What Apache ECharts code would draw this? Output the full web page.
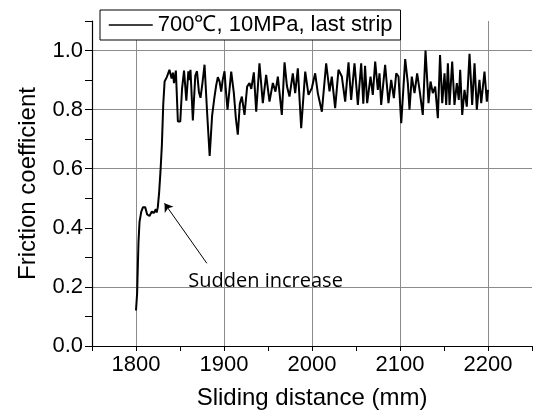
<!DOCTYPE html>
<html>
<head>
<meta charset="utf-8">
<script src="https://cdn.jsdelivr.net/npm/echarts@6/dist/echarts.min.js"></script>
<style>html,body{margin:0;padding:0;background:#fff;}#c{width:533px;height:410px;}</style>
</head>
<body>
<div id="c"></div>
<script>
const seriesName = '700\u2103, 10MPa, last strip';
const distance = [1800,1801.3,1802.8,1804,1806,1808,1810.4,1812.7,1815.3,1818,1820.3,1822.5,1823.5,1824.8,1826.3,1827.8,1829.4,1831,1832.5,1835,1838,1840.5,1842,1843.2,1845.3,1847.6,1850.3,1852.3,1854.6,1857.2,1859.5,1860.6,1861.9,1864.6,1867.4,1869.3,1871.5,1873.3,1875.5,1877.9,1881,1883.7,1886.5,1889,1891,1893,1895,1896.8,1898.5,1900.6,1902,1904,1906,1908.2,1911.2,1913.5,1915.7,1918,1920.3,1923.3,1926.3,1929,1931,1933.9,1936.6,1940.3,1944.1,1947.9,1951.7,1955.5,1958.5,1961.2,1963,1965.7,1968.8,1971.5,1974.4,1978.2,1980.9,1983.9,1987.7,1992.3,1996,1999.8,2003.6,2006.6,2011.2,2016.1,2019.9,2022.5,2026.3,2030.1,2033.9,2037.7,2041.5,2044.5,2048.3,2052.1,2055.9,2058.3,2060.3,2062.7,2066.5,2069.1,2071.8,2074.8,2076.7,2078.6,2083.1,2086.9,2090,2093,2095.7,2098.3,2101.4,2105.9,2108.9,2110.8,2113.4,2116.5,2119.5,2122.2,2125.9,2129,2132.4,2134.7,2137.3,2140,2143,2145.5,2148,2150.6,2152.5,2154.4,2156.3,2159.3,2161.9,2164.6,2166.8,2168.4,2170.7,2173.3,2175.9,2179,2182,2184.7,2187.3,2190.3,2192.3,2196,2198.7,2200];
const friction = [0.12,0.18,0.35,0.42,0.455,0.47,0.47,0.445,0.44,0.455,0.45,0.463,0.452,0.47,0.52,0.59,0.68,0.82,0.895,0.91,0.935,0.905,0.925,0.89,0.932,0.76,0.76,0.87,0.932,0.83,0.93,0.9,0.935,0.763,0.915,0.93,0.86,0.84,0.89,0.952,0.78,0.643,0.78,0.839,0.88,0.91,0.895,0.861,0.9,0.93,0.87,0.80,0.86,0.929,0.856,0.77,0.715,0.82,0.844,0.782,0.878,0.89,0.87,0.926,0.793,0.957,0.822,0.918,0.827,0.89,0.861,0.912,0.86,0.782,0.96,0.88,0.844,0.923,0.856,0.94,0.737,0.929,0.85,0.873,0.923,0.856,0.793,0.957,0.862,0.912,0.805,0.935,0.912,0.827,0.96,0.833,0.957,0.816,0.957,0.82,0.948,0.822,0.912,0.85,0.963,0.867,0.923,0.816,0.952,0.822,0.901,0.839,0.923,0.912,0.754,0.971,0.89,0.80,0.912,0.856,0.923,0.867,0.782,1.0,0.822,0.895,0.856,0.878,0.771,0.985,0.822,0.923,0.816,0.957,0.816,0.963,0.816,0.89,0.833,0.935,0.782,0.867,0.81,0.989,0.816,0.957,0.80,0.901,0.822,0.929,0.827,0.867];
const xTickLabels = [1800, 1900, 2000, 2100, 2200];
const yTickLabels = ['0.0', '0.2', '0.4', '0.6', '0.8', '1.0'];
const yGridValues = [0.2, 0.6, 0.8, 1.0];
const annotationText = 'Sudden increase';
const arrowTail = [1880.5, 0.28];
const arrowHead = [1832.4, 0.483];
const textAnchor = [1860, 0.218];

const points = distance.map((d, i) => [d, friction[i]]);
const GRID = '#8c8c8c';
const CLEAR = 'rgba(0,0,0,0)';
const xColors = [];
for (let v = 1750; v <= 2250; v += 50) xColors.push(xTickLabels.indexOf(v) >= 0 ? GRID : CLEAR);
const yColors = [];
for (let k = 0; k <= 11; k++) yColors.push(yGridValues.some(g => Math.round(g * 10) === k) ? GRID : CLEAR);

const chart = echarts.init(document.getElementById('c'), null, {renderer: 'canvas'});
chart.setOption({
  animation: false,
  backgroundColor: '#fff',
  grid: {left: 92, right: 1, top: 21, bottom: 64, containLabel: false, outerBoundsMode: 'none'},
  legend: {
    data: [seriesName], left: 100, top: 10,
    padding: [4, 8, 4, 8],
    borderColor: '#000', borderWidth: 1, borderRadius: 0,
    backgroundColor: '#fff',
    itemWidth: 44, itemHeight: 14,
    itemStyle: {color: 'rgba(0,0,0,0)', borderWidth: 0, opacity: 0},
    lineStyle: {color: '#000', width: 1.5},
    textStyle: {fontFamily: 'Liberation Sans', fontSize: 22, color: '#000'}
  },
  xAxis: {
    type: 'value', min: 1750, max: 2250, interval: 50,
    name: 'Sliding distance (mm)', nameLocation: 'middle', nameGap: 40,
    nameTextStyle: {fontFamily: 'Liberation Sans', fontSize: 24, color: '#000'},
    axisLine: {show: true, lineStyle: {color: '#000', width: 1.2}},
    axisTick: {show: true, inside: false, length: 5, lineStyle: {color: '#000', width: 1}},
    axisLabel: {margin: 8, fontFamily: 'Liberation Sans', fontSize: 22, color: '#000',
      formatter: v => (xTickLabels.indexOf(Math.round(v)) >= 0 ? String(Math.round(v)) : '')},
    splitLine: {show: true, lineStyle: {color: xColors, width: 1}}
  },
  yAxis: {
    type: 'value', min: 0, max: 1.1, interval: 0.1,
    name: 'Friction coefficient', nameLocation: 'middle', nameGap: 52, nameRotate: 90,
    nameTextStyle: {fontFamily: 'Liberation Sans', fontSize: 24, color: '#000'},
    axisLine: {show: true, lineStyle: {color: '#000', width: 1.2}},
    axisTick: {show: true, inside: false, length: 7, lineStyle: {color: '#000', width: 1}},
    axisLabel: {margin: 9, fontFamily: 'Liberation Sans', fontSize: 22, color: '#000',
      formatter: v => { const k = Math.round(v * 10); return (k % 2 === 0 && k / 2 < yTickLabels.length) ? yTickLabels[k / 2] : ''; }},
    splitLine: {show: true, lineStyle: {color: yColors, width: 1}}
  },
  series: [{
    name: seriesName, type: 'line', data: points,
    symbol: 'none', showSymbol: false, smooth: false,
    lineStyle: {color: '#000', width: 2},
    itemStyle: {color: '#000'},
    markLine: {
      silent: true, animation: false,
      symbol: ['none', 'arrow'], symbolSize: 8,
      lineStyle: {color: '#000', width: 1, type: 'solid'},
      label: {show: false},
      data: [[{coord: arrowTail}, {coord: arrowHead}]]
    },
    markPoint: {
      silent: true, animation: false,
      data: [{coord: textAnchor, symbol: 'circle', symbolSize: 1,
        itemStyle: {color: 'rgba(0,0,0,0)'},
        label: {show: true, position: [0, 0], align: 'left', verticalAlign: 'middle',
          formatter: annotationText, fontFamily: 'Open Sans', fontSize: 20, color: '#000'}}]
    }
  }]
});
</script>
</body>
</html>
